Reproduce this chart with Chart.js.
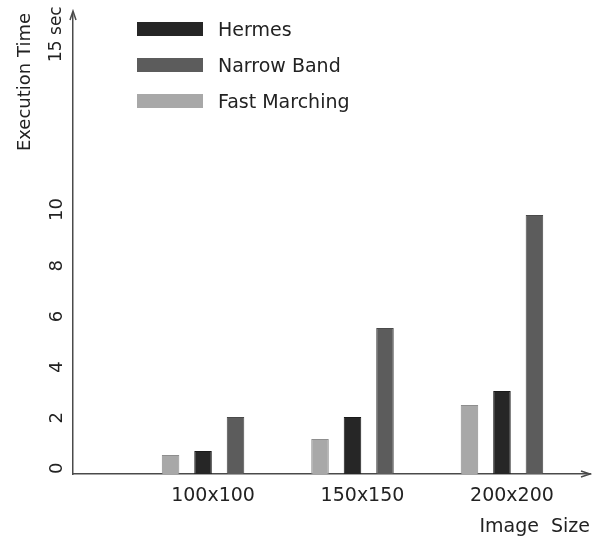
<!DOCTYPE html>
<html>
<head>
<meta charset="utf-8">
<script src="https://cdn.jsdelivr.net/npm/chart.js@4.4.1/dist/chart.umd.min.js"></script>
<style>
  body { margin: 0; background: #fff; }
  #wrap { position: relative; width: 602px; height: 542px; }
  #legend { position: absolute; left: 137px; top: 22px; font: 19px "DejaVu Sans", sans-serif; color: #222; }
  .item { position: absolute; left: 0; display: flex; align-items: center; white-space: nowrap; }
  .swatch { width: 66px; height: 14px; margin-right: 15px; box-sizing: border-box; }
</style>
</head>
<body>
<div id="wrap">
  <canvas id="chart" width="602" height="542"></canvas>
  <div id="legend"></div>
</div>
<script>
const categories = ["100x100", "150x150", "200x200"];
const fastMarching = [0.75, 1.38, 2.73];
const hermes = [0.91, 2.25, 3.28];
const narrowBand = [2.25, 5.77, 10.24];
const yTicks = [0, 2, 4, 6, 8, 10];
const topLabel = "15 sec";

const textColor = "#222";
const axisColor = "#4a4a4a";
const fontFamily = '"DejaVu Sans", sans-serif';

function toPoints(values) {
  return values.map((v, i) => ({ x: i + 1, y: v }));
}

// bars in the group go light, black, dark (legend lists them in another order)
const datasets = [
  { label: "Fast Marching", data: toPoints(fastMarching), backgroundColor: "#a8a8a8", borderColor: "#8e8e8e" },
  { label: "Hermes", data: toPoints(hermes), backgroundColor: "#262626", borderColor: "#1a1a1a" },
  { label: "Narrow Band", data: toPoints(narrowBand), backgroundColor: "#5c5c5c", borderColor: "#4a4a4a" },
];
const legendOrder = ["Hermes", "Narrow Band", "Fast Marching"];

const axisText = {
  id: "axisText",
  afterDraw(chart) {
    const ctx = chart.ctx;
    const y = chart.scales.y;
    const area = chart.chartArea;
    ctx.save();
    ctx.fillStyle = textColor;
    ctx.font = "18px " + fontFamily;
    ctx.textBaseline = "middle";

    // rotated tick labels, starting at the tick and reading upwards
    yTicks.forEach((v) => {
      ctx.save();
      ctx.translate(57, y.getPixelForValue(v));
      ctx.rotate(-Math.PI / 2);
      ctx.textAlign = "left";
      ctx.fillText(String(v), 0, 0);
      ctx.restore();
    });

    ctx.save();
    ctx.font = "17px " + fontFamily;
    ctx.translate(57, area.top + 48);
    ctx.rotate(-Math.PI / 2);
    ctx.textAlign = "left";
    ctx.fillText(topLabel, 0, 0);
    ctx.restore();

    ctx.save();
    ctx.translate(25, area.top - 1);
    ctx.rotate(-Math.PI / 2);
    ctx.textAlign = "right";
    ctx.fillText("Execution Time", 0, 0);
    ctx.restore();

    // small arrow heads at the axis ends
    ctx.strokeStyle = axisColor;
    ctx.lineWidth = 1.5;
    ctx.beginPath();
    ctx.moveTo(area.left - 3, area.top + 6);
    ctx.lineTo(area.left, area.top - 3);
    ctx.lineTo(area.left + 3, area.top + 6);
    ctx.moveTo(area.right - 9, area.bottom - 3);
    ctx.lineTo(area.right, area.bottom);
    ctx.lineTo(area.right - 9, area.bottom + 3);
    ctx.stroke();
    ctx.restore();
  },
};

const chart = new Chart(document.getElementById("chart"), {
  type: "bar",
  data: { datasets: datasets.map((d) => ({ ...d, borderWidth: 1 })) },
  options: {
    responsive: false,
    animation: false,
    events: [],
    categoryPercentage: 0.652,
    barPercentage: 0.54,
    layout: { padding: { left: 73, right: 12, top: 14, bottom: 0 } },
    plugins: { legend: { display: false }, tooltip: { enabled: false } },
    scales: {
      x: {
        type: "linear",
        offset: false,
        min: 0.13,
        max: 3.589,
        bounds: "data",
        afterBuildTicks: (scale) => {
          scale.ticks = categories.map((c, i) => ({ value: i + 1 }));
        },
        afterFit: (scale) => {
          scale.height = 68;
        },
        grid: { display: false, drawTicks: false, offset: false },
        border: { display: true, color: axisColor, width: 1.5 },
        ticks: {
          autoSkip: false,
          maxRotation: 0,
          padding: 11,
          labelOffset: 10,
          color: textColor,
          font: { family: fontFamily, size: 19 },
          callback: (v) => categories[v - 1],
        },
        title: {
          display: true,
          text: "Image  Size",
          align: "end",
          color: textColor,
          font: { family: fontFamily, size: 19 },
          padding: { top: 0, bottom: 4 },
        },
      },
      y: {
        type: "linear",
        min: 0,
        max: 18.18,
        bounds: "data",
        afterFit: (scale) => {
          scale.width = 0;
        },
        grid: { display: false, drawTicks: false },
        border: { display: true, color: axisColor, width: 1.5 },
        ticks: { display: false },
      },
    },
  },
  plugins: [axisText],
});

// legend, drawn as html next to the plot
const legend = document.getElementById("legend");
legendOrder.forEach((name, i) => {
  const ds = datasets.find((d) => d.label === name);
  const item = document.createElement("div");
  item.className = "item";
  item.style.top = i * 36 - 4 + "px";
  item.innerHTML = `<span class="swatch" style="background:${ds.backgroundColor}"></span><span>${name}</span>`;
  legend.appendChild(item);
});
</script>
</body>
</html>
